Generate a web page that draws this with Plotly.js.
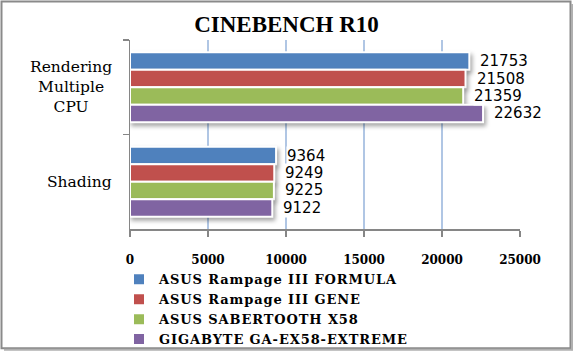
<!DOCTYPE html>
<html><head><meta charset="utf-8">
<script src="https://cdn.plot.ly/plotly-3.0.1.min.js"></script>
<style>
html,body{margin:0;padding:0;background:#fff;}
#chart{width:573px;height:351px;}
.barlayer .point path{filter:drop-shadow(2px 3px 2px rgba(0,0,0,0.35));}
.legendtext{letter-spacing:0.9px;}
</style></head>
<body><div id="chart"></div>
<script>
const categories = ["Rendering<br>Multiple<br>CPU", "Shading"];
const seriesNames = ["ASUS Rampage III FORMULA", "ASUS Rampage III GENE", "ASUS SABERTOOTH X58", "GIGABYTE GA-EX58-EXTREME"];
const formula = [21753, 9364];
const gene = [21508, 9249];
const sabertooth = [21359, 9225];
const gigabyte = [22632, 9122];
const colors = ["#4F81BD", "#C0504D", "#9BBB59", "#8064A2"];
const xTicks = [0, 5000, 10000, 15000, 20000, 25000];

const allValues = [formula, gene, sabertooth, gigabyte];
const serif = "DejaVu Serif, serif";
const bargap = 0.26;

const L = 130, R = 520, T = 40, B = 229.5, W = 573, H = 351;
const px = x => (x - L) / (R - L);
const py = y => (B - y) / (B - T);

const catIdx = categories.map((c, i) => i);
const traces = allValues.map((vals, k) => ({
  type: "bar", orientation: "h",
  name: seriesNames[k],
  x: vals, y: catIdx,
  marker: {color: colors[k], line: {color: "#ffffff", width: 2}},
  hoverinfo: "none"
}));

const annotations = [];
const w = (1 - bargap) / allValues.length;
allValues.forEach((vals, k) => {
  vals.forEach((v, i) => {
    annotations.push({
      x: v, y: i + (k - (allValues.length - 1) / 2) * w,
      xref: "x", yref: "y", text: String(v), showarrow: false,
      xanchor: "left", yanchor: "middle", xshift: 10,
      bgcolor: "#ffffff", borderpad: 0,
      font: {family: "DejaVu Sans, sans-serif", size: 15, color: "#000"}
    });
  });
});
categories.forEach((c, i) => {
  annotations.push({
    x: 0, xref: "paper", y: i, yref: "y", text: c, showarrow: false,
    xanchor: "right", yanchor: "middle", xshift: -16, align: "center",
    font: {family: serif, size: 15.5, color: "#000"}
  });
});

const layout = {
  width: W, height: H,
  margin: {l: L, r: W - R, t: T, b: H - B, pad: 0, autoexpand: false},
  paper_bgcolor: "#fff", plot_bgcolor: "#fff",
  showlegend: true,
  barmode: "group", bargap: bargap, bargroupgap: 0,
  title: {text: "<b>CINEBENCH R10</b>", x: 0.5, xref: "container", xanchor: "center",
          y: 1 - 23.5 / H, yref: "container", yanchor: "middle",
          font: {family: "Liberation Serif, serif", size: 23, color: "#000"}},
  xaxis: {range: [0, 25000], tickvals: xTicks, ticktext: xTicks.map(String),
          showgrid: true, gridcolor: "#B0C6E4", gridwidth: 1.5,
          zeroline: false, showline: true, linecolor: "#868686", linewidth: 1.5,
          ticks: "outside", ticklen: 6, tickcolor: "#868686", tickwidth: 1.5,
          ticklabelstandoff: 13, automargin: false,
          tickfont: {family: serif, size: 12, weight: "bold", color: "#000"}, fixedrange: true},
  yaxis: {type: "category", autorange: "reversed", range: [1.5, -0.5],
          showticklabels: false, showgrid: false, zeroline: false,
          showline: true, linecolor: "#868686", linewidth: 1.5,
          ticks: "outside", ticklen: 6, tickcolor: "#868686", tickwidth: 1.5,
          tickson: "boundaries", fixedrange: true, automargin: false},
  legend: {x: px(119), y: py(265), xanchor: "left", yanchor: "top",
           orientation: "v", traceorder: "normal",
           font: {family: serif, size: 13, weight: "bold", color: "#000"},
           bgcolor: "rgba(0,0,0,0)", itemclick: false},
  annotations: annotations,
  shapes: [
    {type: "rect", xref: "paper", yref: "paper", x0: px(1.5), x1: px(570.5), y0: py(1.5), y1: py(349),
     line: {color: "#8a8a8a", width: 2}, fillcolor: "rgba(0,0,0,0)", layer: "below"},
    {type: "line", xref: "paper", yref: "paper", x0: px(572), x1: px(572), y0: py(4), y1: py(351),
     line: {color: "#b0b0b0", width: 2}},
    {type: "line", xref: "paper", yref: "paper", x0: px(4), x1: px(573), y0: py(350.5), y1: py(350.5),
     line: {color: "#b0b0b0", width: 2}}
  ]
};

Plotly.newPlot("chart", traces, layout, {displayModeBar: false, staticPlot: true});
</script></body></html>
